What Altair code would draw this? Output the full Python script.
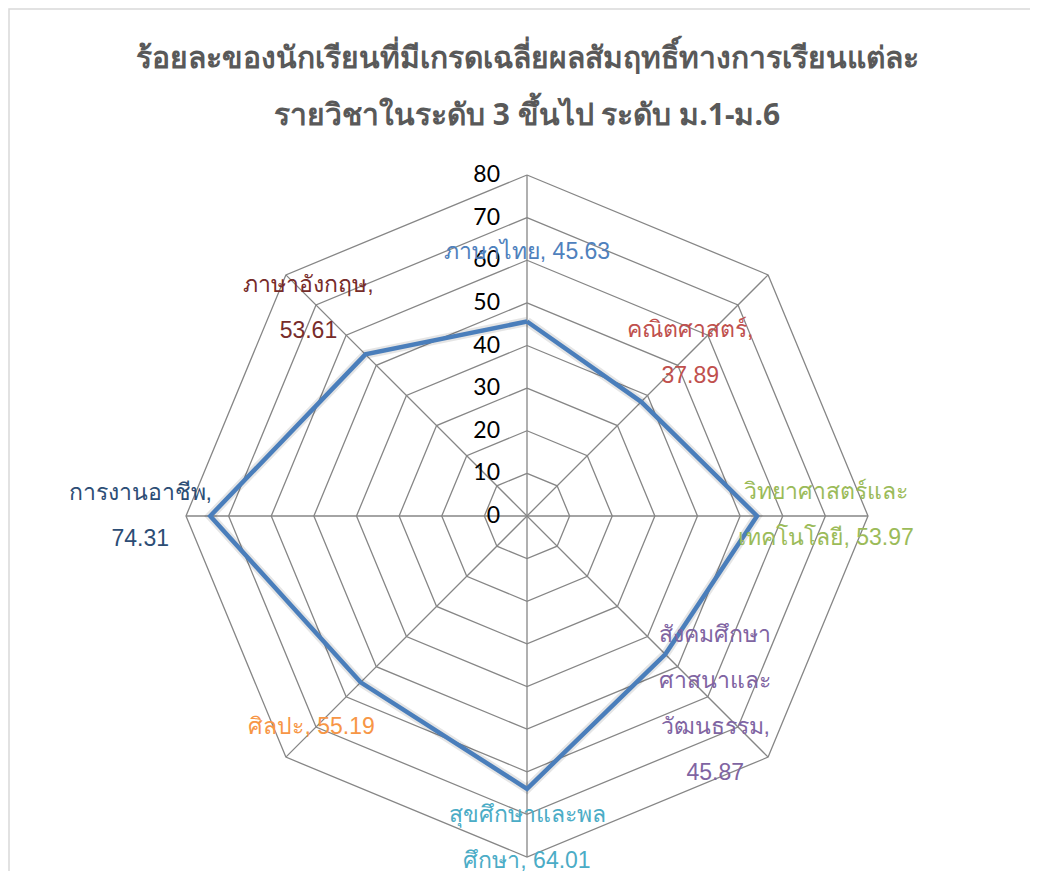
import altair as alt
import pandas as pd

# ---------------- data ----------------
CATEGORIES = [
    "ภาษาไทย",
    "คณิตศาสตร์",
    "วิทยาศาสตร์และเทคโนโลยี",
    "สังคมศึกษาศาสนาและวัฒนธรรม",
    "สุขศึกษาและพลศึกษา",
    "ศิลปะ",
    "การงานอาชีพ",
    "ภาษาอังกฤษ",
]
VALUES = [45.63, 37.89, 53.97, 45.87, 64.01, 55.19, 74.31, 53.61]
TICKS = [0, 10, 20, 30, 40, 50, 60, 70, 80]
TITLE_LINES = [
    "ร้อยละของนักเรียนที่มีเกรดเฉลี่ยผลสัมฤทธิ์ทางการเรียนแต่ละ",
    "รายวิชาในระดับ 3 ขึ้นไป ระดับ ม.1-ม.6",
]

# ---------------- label layout (wrapping, colours, first-line offsets in px) ----------------
LABEL_WRAPPED = [
    "ภาษาไทย",
    "คณิตศาสตร์",
    "วิทยาศาสตร์และ\nเทคโนโลยี",
    "สังคมศึกษา\nศาสนาและ\nวัฒนธรรม",
    "สุขศึกษาและพล\nศึกษา",
    "ศิลปะ",
    "การงานอาชีพ",
    "ภาษาอังกฤษ",
]
LABEL_SEP = [" ", "\n", " ", "\n", " ", " ", "\n", "\n"]
LABEL_COLORS = ["#4F81BD", "#C0504D", "#9BBB59", "#8064A2",
                "#4BACC6", "#F79646", "#2C4D75", "#772C2A"]
LABEL_OFFSETS = [(0, -70), (49, -72), (69, -24), (50, -19),
                 (0, 26), (-49, 45), (-70, -23), (-57, -69)]

N = len(CATEGORIES)
RMAX = TICKS[-1]

# ---------------- tables ----------------
pts = pd.DataFrame({"category": CATEGORIES, "value": VALUES, "idx": list(range(N))})
pts["label"] = [f"{w},{s}{v:.2f}" for w, s, v in zip(LABEL_WRAPPED, LABEL_SEP, VALUES)]
poly = pd.concat([pts, pts.iloc[[0]].assign(idx=N)], ignore_index=True)

rings = pd.DataFrame(
    [{"level": t, "idx": i} for t in TICKS[1:] for i in range(N + 1)]
)
spokes = pd.DataFrame({"idx": list(range(N)), "level": [RMAX] * N})
ticks = pd.DataFrame({"tick": TICKS})

# ---------------- scales ----------------
PX_PER_UNIT = 341 / 80.0
W, H = 1036, 1014
xs = alt.Scale(domain=[-(W / 2) / PX_PER_UNIT, (W / 2) / PX_PER_UNIT], nice=False, zero=False)
ys = alt.Scale(domain=[-(H / 2) / PX_PER_UNIT, (H / 2) / PX_PER_UNIT], nice=False, zero=False)

ANG = f"datum.idx * 2 * PI / {N}"

def polar(chart, rfield):
    return chart.transform_calculate(
        px=f"datum.{rfield} * sin({ANG})",
        py=f"datum.{rfield} * cos({ANG})",
    )

GRID = "#868686"

ring_layer = polar(alt.Chart(rings), "level").mark_line(
    color=GRID, strokeWidth=1.3, strokeJoin="miter"
).encode(
    x=alt.X("px:Q", scale=xs, axis=None),
    y=alt.Y("py:Q", scale=ys, axis=None),
    detail="level:N",
    order="idx:Q",
)

spoke_layer = alt.Chart(spokes).transform_calculate(
    px=f"datum.level * sin({ANG})",
    py=f"datum.level * cos({ANG})",
    ox="0",
    oy="0",
).mark_rule(color=GRID, strokeWidth=1.3).encode(
    x=alt.X("ox:Q", scale=xs, axis=None),
    y=alt.Y("oy:Q", scale=ys, axis=None),
    x2="px:Q",
    y2="py:Q",
)

shadow_layer = polar(alt.Chart(poly), "value").mark_line(
    color="#000000", opacity=0.10, strokeWidth=9, strokeJoin="miter"
).encode(
    x=alt.X("px:Q", scale=xs, axis=None),
    y=alt.Y("py:Q", scale=ys, axis=None),
    order="idx:Q",
)

data_layer = polar(alt.Chart(poly), "value").mark_line(
    color="#4A7EBB", strokeWidth=4.5, strokeJoin="miter"
).encode(
    x=alt.X("px:Q", scale=xs, axis=None),
    y=alt.Y("py:Q", scale=ys, axis=None),
    order="idx:Q",
)

tick_layer = alt.Chart(ticks).transform_calculate(ox="0").mark_text(
    align="right", baseline="middle", dx=-27, fontSize=23,
    font="Lato, Open Sans, sans-serif", color="#000000",
).encode(
    x=alt.X("ox:Q", scale=xs, axis=None),
    y=alt.Y("tick:Q", scale=ys, axis=None),
    text="tick:Q",
)

label_layers = []
for i in range(N):
    dx, dy = LABEL_OFFSETS[i]
    lay = polar(alt.Chart(pts), "value").transform_filter(
        f"datum.idx == {i}"
    ).mark_text(
        align="center", baseline="middle", dx=dx, dy=dy,
        fontSize=23, lineHeight=46, lineBreak="\n",
        font="Liberation Sans, Arial, sans-serif", color=LABEL_COLORS[i],
    ).encode(
        x=alt.X("px:Q", scale=xs, axis=None),
        y=alt.Y("py:Q", scale=ys, axis=None),
        text="label:N",
    )
    label_layers.append(lay)

chart = alt.layer(
    ring_layer, spoke_layer, shadow_layer, data_layer, tick_layer, *label_layers
).properties(
    width=W,
    height=H,
    autosize=alt.AutoSizeParams(type="none"),
    padding={"left": 1, "top": 1, "right": -15, "bottom": -152},
    title=alt.TitleParams(
        text=TITLE_LINES,
        anchor="middle",
        frame="group",
        offset=-122,
        fontSize=30,
        fontWeight="bold",
        color="#595959",
        lineHeight=57,
        font="Noto Sans, sans-serif",
    ),
    background="#FFFFFF",
).configure_view(
    stroke="#D9D9D9", strokeWidth=1.5
)

chart.save("out.html", embed_options={"renderer": "svg", "actions": False})
